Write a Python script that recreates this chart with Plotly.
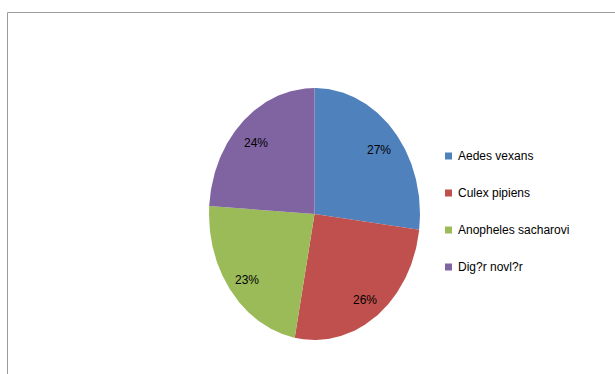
import numpy as np
import plotly.graph_objects as go

# Species share of collected mosquitoes
species = ["Aedes vexans", "Culex pipiens", "Anopheles sacharovi", "Dig?r novl?r"]
shares = [27, 26, 23, 24]
colors = ["#4F81BD", "#C0504D", "#9BBB59", "#8064A2"]

FONT = "Liberation Sans, Arial, sans-serif"
W, H = 615, 374

# Pie drawn on a unit circle; the axis ranges stretch it into an ellipse
cx_px, cy_px, rx_px, ry_px = 314.5, 214.0, 105.5, 126.0
x_range = [-cx_px / rx_px, (W - cx_px) / rx_px]
y_range = [-(H - cy_px) / ry_px, cy_px / ry_px]

fig = go.Figure()

shapes = []
annotations = []

total = float(sum(shares))
start = 90.0  # first slice begins at 12 o'clock, going clockwise
for name, val, col in zip(species, shares, colors):
    sweep = 360.0 * val / total
    end = start - sweep
    theta = np.radians(np.linspace(start, end, 120))
    xs = np.concatenate([[0.0], np.cos(theta), [0.0]])
    ys = np.concatenate([[0.0], np.sin(theta), [0.0]])
    fig.add_trace(go.Scatter(
        x=xs, y=ys, mode="lines", fill="toself", fillcolor=col,
        line=dict(width=0, color=col), name=name, showlegend=False,
        hoverinfo="skip",
    ))
    # percentage label inside the slice
    mid = np.radians((start + end) / 2.0)
    annotations.append(dict(
        x=0.81 * np.cos(mid), y=0.81 * np.sin(mid), xref="x", yref="y",
        text=f"{round(100 * val / total)}%", showarrow=False, yshift=-3,
        font=dict(family=FONT, size=12, color="#000000"),
    ))
    start = end

# Legend: colour squares with labels on the right of the pie
leg_x_px = 445.0
leg_top_px = 156.0
leg_step_px = 37.0
for i, (name, col) in enumerate(zip(species, colors)):
    yc = leg_top_px + i * leg_step_px
    shapes.append(dict(
        type="rect", xref="paper", yref="paper",
        x0=leg_x_px / W, x1=(leg_x_px + 7) / W,
        y0=1 - (yc + 3.5) / H, y1=1 - (yc - 3.5) / H,
        fillcolor=col, line=dict(width=0),
    ))
    annotations.append(dict(
        xref="paper", yref="paper", x=(leg_x_px + 11) / W, y=1 - yc / H,
        xanchor="left", yanchor="middle", text=name, showarrow=False,
        font=dict(family=FONT, size=12, color="#000000"),
    ))

# Chart frame (continues past the right and bottom edges)
shapes.append(dict(
    type="rect", xref="paper", yref="paper",
    x0=7.5 / W, x1=1.2, y0=-0.2, y1=1 - 12.5 / H,
    line=dict(color="#9a9a9a", width=1), fillcolor="rgba(0,0,0,0)",
    layer="below",
))

fig.update_layout(
    width=W, height=H,
    margin=dict(l=0, r=0, t=0, b=0),
    paper_bgcolor="white", plot_bgcolor="white",
    xaxis=dict(range=x_range, visible=False, fixedrange=True),
    yaxis=dict(range=y_range, visible=False, fixedrange=True),
    shapes=shapes, annotations=annotations,
    showlegend=False,
)

fig.write_html("out.html")
